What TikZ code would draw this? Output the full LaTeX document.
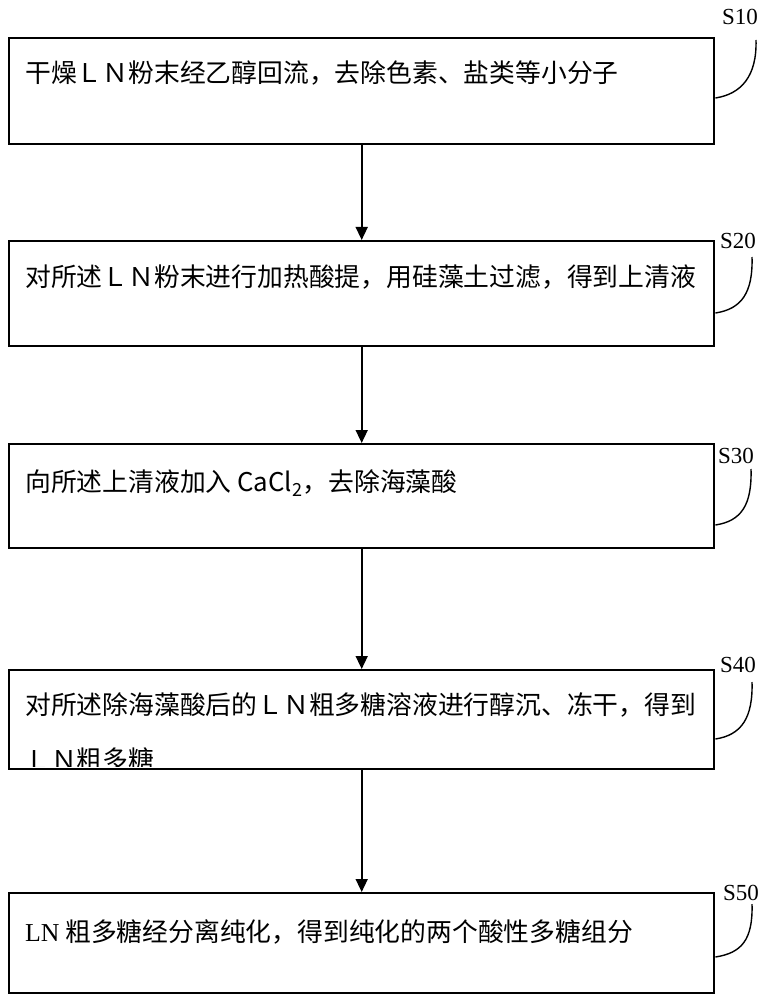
\documentclass[tikz,border=0pt]{standalone}
\usepackage{fontspec}
\setmainfont{Liberation Serif}
\newfontfamily\zhfont{Noto Sans CJK SC}
\usetikzlibrary{arrows.meta}

\tikzset{
  stepbox/.style={draw, line width=2.4pt, minimum width=705pt, inner sep=0pt, anchor=north west},
  steptext/.style={anchor=west, inner sep=0pt, font=\zhfont\fontsize{25.8}{30}\selectfont},
  steplabel/.style={inner sep=0pt, font=\fontsize{23}{26}\selectfont},
  flow/.style={line width=1.6pt, -{Triangle[length=13pt, width=12pt]}},
  hook/.style={line width=1.4pt}
}

\begin{document}
\begin{tikzpicture}[x=1pt, y=-1pt]
\useasboundingbox (0,0) rectangle (764,1000);

% the five steps
\node[stepbox, minimum height=106pt] (b1) at (8,37) {};
\node[stepbox, minimum height=105pt] (b2) at (8,240) {};
\node[stepbox, minimum height=104pt] (b3) at (8,443) {};
\node[stepbox, minimum height=99pt] (b4) at (8,669) {};
\node[stepbox, minimum height=100pt] (b5) at (8,892) {};

\node[steptext] (t1) at (25,73) {干燥ＬＮ粉末经乙醇回流，去除色素、盐类等小分子};
\node[steptext] (t2) at (25,277) {对所述ＬＮ粉末进行加热酸提，用硅藻土过滤，得到上清液};
\node[steptext] (t3) at (25,483) {向所述上清液加入 CaCl\textsubscript{2}，去除海藻酸};
\node[steptext] (t4) at (25,705) {对所述除海藻酸后的ＬＮ粗多糖溶液进行醇沉、冻干，得到};
\begin{scope}
  \clip (b4.north west) rectangle ([yshift=4pt]b4.south east);
  \node[steptext] (t4b) at (25,760) {ＬＮ粗多糖};
\end{scope}
\node[steptext] (t5) at (25,932) {{\rmfamily LN} 粗多糖经分离纯化，得到纯化的两个酸性多糖组分};

% arrows
\draw[flow] (b1.south) -- (b2.north);
\draw[flow] (b2.south) -- (b3.north);
\draw[flow] (b3.south) -- (b4.north);
\draw[flow] (b4.south) -- (b5.north);

% step labels
\node[steplabel] (s10) at (740,17) {S10};
\node[steplabel] (s20) at (738,241) {S20};
\node[steplabel] (s30) at (736,456) {S30};
\node[steplabel] (s40) at (738,665) {S40};
\node[steplabel] (s50) at (741,893) {S50};

\coordinate (e1) at (756,40);
\coordinate (e2) at (752,257);
\coordinate (e3) at (751,469);
\coordinate (e4) at (752,682);
\coordinate (e5) at (752,904);

\draw[hook] (b1.north east) ++(0,61) .. controls +(26,-4) and +(1,36) .. (e1);
\draw[hook] (b2.north east) ++(0,73) .. controls +(26,-4) and +(1,36) .. (e2);
\draw[hook] (b3.north east) ++(0,82) .. controls +(26,-4) and +(1,36) .. (e3);
\draw[hook] (b4.north east) ++(0,70) .. controls +(26,-4) and +(1,36) .. (e4);
\draw[hook] (b5.north east) ++(0,65) .. controls +(26,-4) and +(1,36) .. (e5);
\end{tikzpicture}
\end{document}
